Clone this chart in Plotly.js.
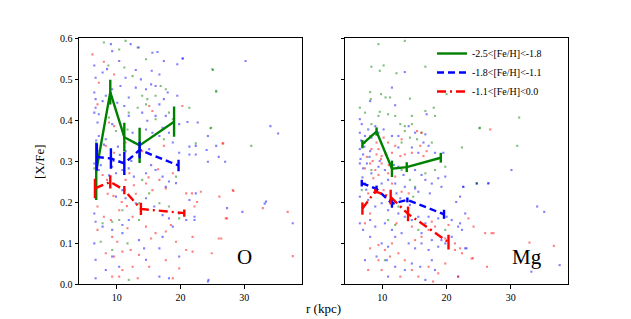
<!DOCTYPE html>
<html>
<head>
<meta charset="utf-8">
<script src="https://cdn.plot.ly/plotly-3.0.1.min.js"></script>
<style>html,body{margin:0;padding:0;background:#fff;}#chart{width:631px;height:319px;}</style>
</head>
<body>
<div id="chart"></div>
<script>
// ---------- legend labels / panel labels ----------
var seriesNames = ["-2.5<[Fe/H]<-1.8", "-1.8<[Fe/H]<-1.1", "-1.1<[Fe/H]<0.0"];
var panelNames = ["O", "Mg"];
var xTicks = [10, 20, 30];
var yTicks = [0.0, 0.1, 0.2, 0.3, 0.4, 0.5, 0.6];

// ---------- binned means: O ----------
var oGreenR = [6.8, 9.0, 11.2, 13.6, 19.0];
var oGreenV = [0.275, 0.468, 0.358, 0.338, 0.396];
var oGreenE = [0.07, 0.03, 0.035, 0.043, 0.037];
var oBlueR = [6.9, 9.1, 11.2, 13.6, 19.7];
var oBlueV = [0.31, 0.306, 0.294, 0.327, 0.289];
var oBlueE = [0.033, 0.025, 0.028, 0.02, 0.014];
var oRedR = [6.6, 9.0, 11.2, 13.8, 20.6];
var oRedV = [0.233, 0.249, 0.229, 0.183, 0.173];
var oRedE = [0.024, 0.016, 0.01, 0.015, 0.009];

// ---------- binned means: Mg ----------
var mgGreenR = [6.9, 9.1, 11.5, 13.8, 19.1];
var mgGreenV = [0.341, 0.372, 0.281, 0.285, 0.308];
var mgGreenE = [0.01, 0.01, 0.02, 0.012, 0.012];
var mgBlueR = [6.8, 9.1, 11.5, 13.9, 19.6];
var mgBlueV = [0.246, 0.232, 0.196, 0.205, 0.17];
var mgBlueE = [0.008, 0.008, 0.01, 0.006, 0.011];
var mgRedR = [6.9, 8.9, 11.3, 14.0, 20.3];
var mgRedV = [0.184, 0.226, 0.212, 0.171, 0.102];
var mgRedE = [0.015, 0.006, 0.018, 0.018, 0.018];

// ---------- individual stars: O ----------
var oDotGreenR = [8.0,11.4,13.5,14.6,10.4,8.7,12.5,11.2,14.8,14.0,16.9,17.7,16.1,13.3,11.9,18.2,21.4,25.0,25.6,24.8,22.4,16.1,11.7,9.9,14.6,18.8,8.8,17.4,25.1,25.6,24.7,31.1,
  6.5,7.8,9.3,10.4,10.9,13.5,13.5,16.7,18.2,19.3,19.8,7.5,9.3,11.7,11.9,15.1,14.0];
var oDotGreenV = [0.589,0.593,0.577,0.548,0.572,0.533,0.507,0.528,0.451,0.459,0.483,0.475,0.459,0.430,0.418,0.418,0.430,0.524,0.471,0.381,0.343,0.402,0.377,0.373,0.438,0.402,0.406,0.353,0.522,0.469,0.38,0.337,
  0.282,0.148,0.152,0.156,0.180,0.197,0.156,0.197,0.189,0.262,0.160,0.103,0.083,0.099,0.010,0.221,0.254];
var oDotBlueR = [9.1,9.3,12.2,13.3,15.6,16.4,20.3,17.4,10.4,6.5,7.8,8.5,6.7,13.0,15.5,16.7,19.5,11.4,13.0,10.6,14.6,16.1,18.0,19.5,6.7,6.5,7.2,7.0,9.9,11.2,14.0,14.8,11.9,16.1,17.7,18.2,19.8,21.1,22.7,22.4,25.6,24.3,12.5,14.6,16.7,6.5,6.7,7.8,8.3,9.3,13.8,15.4,17.4,16.7,11.9,10.1,8.3,7.2,9.3,18.8,19.8,11.4,15.1,15.6,12.7,17.2,21.4,22.4,
  30.2,34.1,35.3,33.4,33.2,29.7,37.6,20.4,21.4,24.1,26.0,27.0,22.2,27.3,24.4,
  6.5,7.2,9.3,9.9,10.9,11.9,12.7,14.6,15.4,16.1,17.2,18.2,19.3,17.7,10.9,9.9,11.4,13.0,14.6,15.9,17.2,18.2,19.8,20.9,22.2,24.3,22.4,21.4,6.5,6.7,7.8,9.3,10.9,11.9,10.9,13.5,16.7,18.8,17.2,6.5,6.7,9.3,10.4,8.3,6.7,14.3,16.7,18.2,24.3,19.8,14.6,
  7.0,8.0,9.5,10.5,12.0,7.5,8.8,10.2,12.3,6.8];
var oDotBlueV = [0.585,0.568,0.585,0.577,0.564,0.566,0.550,0.544,0.544,0.533,0.516,0.524,0.503,0.522,0.520,0.511,0.536,0.503,0.479,0.483,0.475,0.483,0.467,0.459,0.430,0.418,0.414,0.394,0.422,0.434,0.418,0.398,0.410,0.410,0.410,0.369,0.390,0.395,0.394,0.337,0.337,0.361,0.369,0.377,0.361,0.467,0.451,0.446,0.459,0.475,0.499,0.487,0.451,0.438,0.455,0.442,0.353,0.361,0.390,0.345,0.320,0.324,0.329,0.369,0.345,0.381,0.316,0.316,
  0.544,0.385,0.367,0.201,0.196,0.176,0.148,0.55,0.335,0.327,0.31,0.298,0.164,0.185,0.01,
  0.294,0.278,0.286,0.270,0.278,0.282,0.262,0.270,0.290,0.278,0.262,0.250,0.246,0.237,0.229,0.213,0.209,0.197,0.209,0.189,0.168,0.160,0.172,0.156,0.156,0.298,0.221,0.205,0.172,0.152,0.140,0.132,0.144,0.156,0.124,0.107,0.087,0.140,0.115,0.099,0.059,0.067,0.042,0.034,0.014,0.087,0.018,0.014,0.006,0.067,0.059,
  0.325,0.34,0.3,0.315,0.305,0.29,0.265,0.335,0.3,0.35];
var oDotRedR = [6.2,8.0,9.6,7.0,7.2,8.8,9.6,15.1,15.6,20.3,26.6,11.4,17.4,8.3,9.6,14.0,
  28.3,32.9,36.8,37.6,26.7,21.8,26.0,24.9,27.3,22.6,
  7.8,8.5,11.4,12.7,14.6,15.6,16.7,17.7,18.8,20.9,22.2,23.2,26.1,28.2,27.1,26.4,7.0,8.0,9.1,10.4,9.3,10.1,11.7,12.5,14.6,15.4,16.1,17.7,18.5,19.3,20.9,21.9,21.9,7.0,8.3,9.6,10.9,12.2,13.5,17.7,10.9,9.3,10.4,13.3,12.5,19.8,18.8,15.1,
  9.5,10.8,12.0,13.0,15.0,16.5,8.6,11.6];
var oDotRedV = [0.560,0.542,0.511,0.438,0.491,0.394,0.385,0.434,0.422,0.434,0.343,0.345,0.337,0.337,0.320,0.324,
  0.227,0.185,0.176,0.068,0.343,0.221,0.111,0.075,0.16,0.2,
  0.266,0.254,0.254,0.241,0.245,0.229,0.254,0.233,0.270,0.221,0.189,0.225,0.213,0.229,0.160,0.111,0.189,0.164,0.156,0.180,0.115,0.103,0.136,0.164,0.140,0.111,0.124,0.128,0.144,0.103,0.083,0.115,0.079,0.132,0.075,0.067,0.079,0.083,0.071,0.058,0.034,0.018,0.018,0.014,0.042,0.038,0.014,0.042,
  0.215,0.2,0.27,0.22,0.26,0.28,0.22,0.19];

// ---------- individual stars: Mg ----------
var mgDotGreenR = [9.4,13.5,8.3,9.6,10.2,12.2,16.7,8.1,9.8,10.5,11.2,8.2,14.3,6.5,9.6,9.4,10.9,12.0,14.6,7.3,12.8,13.5,14.6,16.7,18.0,18.2,20.0,25.2,22.4,13.5,14.3,15.4,16.1,13.0,17.7,8.3,31.3,31.0,24.7,25.1,
  8.3,11.5,13.0,14.3,15.1,16.7,18.2,19.8,24.7,10.4,12.5,14.8,10.9,19.8,15.6,10.4,12.0,6.8];
var mgDotGreenV = [0.585,0.593,0.530,0.520,0.533,0.514,0.530,0.468,0.463,0.455,0.455,0.451,0.452,0.430,0.420,0.410,0.414,0.410,0.410,0.418,0.390,0.385,0.390,0.422,0.430,0.410,0.463,0.381,0.333,0.373,0.357,0.353,0.369,0.345,0.345,0.390,0.406,0.337,0.246,0.38,
  0.278,0.286,0.278,0.254,0.237,0.270,0.278,0.286,0.245,0.213,0.189,0.213,0.156,0.132,0.132,0.058,0.144,0.229];
var mgDotBlueR = [13.5,11.5,12.0,8.1,6.5,6.8,8.9,9.4,6.5,7.3,7.8,10.2,11.5,12.5,14.1,15.1,16.7,17.2,6.5,7.0,8.1,12.5,14.6,16.4,15.6,18.2,19.5,16.9,8.3,
  30.1,34.1,35.2,37.6,33.2,26.5,22.6,21.5,22.9,22.4,23.1,21.8,
  6.5,7.0,7.6,8.3,9.4,10.4,12.5,13.3,15.1,16.1,16.7,17.7,18.7,19.8,19.2,17.4,15.6,15.1,13.5,12.0,10.9,9.9,7.3,6.5,7.8,8.9,9.9,10.9,12.5,13.5,14.6,15.6,16.7,17.2,18.7,20.0,20.8,22.6,22.1,24.7,26.5,22.1,22.9,6.5,7.0,8.1,8.9,10.4,11.5,12.0,13.0,14.1,15.1,16.1,17.2,17.7,18.7,19.8,10.9,9.9,9.1,10.7,12.0,10.9,13.5,16.7,17.7,19.2,20.8,21.8,8.1,7.3,15.9,14.6,18.2,12.2,12.8,11.2,14.3,16.1,
  6.6,7.2,8.0,6.9,7.5,9.6,10.6,11.8,6.7];
var mgDotBlueV = [0.517,0.479,0.436,0.446,0.402,0.390,0.385,0.369,0.369,0.361,0.377,0.377,0.361,0.361,0.385,0.369,0.365,0.337,0.329,0.316,0.324,0.333,0.333,0.345,0.320,0.320,0.320,0.414,0.357,
  0.278,0.189,0.176,0.046,0.030,0.246,0.237,0.2,0.172,0.132,0.087,0.018,
  0.294,0.282,0.294,0.270,0.286,0.278,0.286,0.266,0.278,0.266,0.254,0.245,0.258,0.262,0.237,0.221,0.225,0.233,0.237,0.245,0.254,0.245,0.245,0.213,0.205,0.189,0.197,0.180,0.172,0.164,0.156,0.164,0.148,0.164,0.160,0.164,0.156,0.237,0.213,0.245,0.245,0.148,0.087,0.148,0.132,0.156,0.140,0.148,0.132,0.115,0.124,0.099,0.087,0.099,0.083,0.107,0.091,0.099,0.091,0.099,0.067,0.058,0.042,0.018,0.034,0.010,0.058,0.107,0.115,0.140,0.115,0.058,0.042,0.050,0.034,0.221,0.209,0.205,0.193,0.124,
  0.305,0.335,0.31,0.26,0.23,0.3,0.315,0.29,0.35];
var mgDotRedR = [8.1,9.1,10.2,10.9,9.4,8.3,12.0,13.0,14.6,15.9,16.1,16.9,13.5,11.5,9.9,7.3,15.4,9.1,12.8,16.4,8.5,9.8,11.0,7.6,10.5,26.8,
  32.9,36.7,27.3,24.1,22.4,
  8.1,8.9,9.4,8.6,7.3,9.9,10.9,11.5,12.0,13.0,14.1,10.2,7.8,7.0,8.1,7.3,14.6,15.1,16.1,17.2,18.2,19.8,21.3,22.1,23.4,24.2,26.0,27.0,8.1,9.4,10.4,11.5,12.5,11.2,9.4,13.5,14.6,15.6,17.2,18.7,19.8,21.3,21.8,23.9,26.3,17.9,12.8,9.9,7.8,17.7,12.2,20.3];
var mgDotRedV = [0.361,0.345,0.357,0.345,0.329,0.329,0.337,0.353,0.320,0.337,0.369,0.324,0.316,0.320,0.312,0.345,0.373,0.316,0.312,0.312,0.30,0.305,0.29,0.31,0.318,0.377,
  0.101,0.093,0.124,0.063,0.075,
  0.294,0.278,0.266,0.258,0.282,0.294,0.270,0.245,0.262,0.225,0.221,0.229,0.221,0.189,0.172,0.148,0.140,0.107,0.115,0.132,0.140,0.111,0.099,0.087,0.160,0.140,0.124,0.124,0.087,0.095,0.083,0.099,0.075,0.067,0.058,0.058,0.034,0.018,0.042,0.026,0.050,0.083,0.018,0.062,0.042,0.006,0.018,0.034,0.034,0.152,0.148,0.144];

var GREEN = "#008000", BLUE = "#0000ff", RED = "#ff0000";
var FONT = "'Liberation Serif', 'Times New Roman', serif";

function dots(x, y, color, xa, ya) {
  return {x: x, y: y, xaxis: xa, yaxis: ya, type: "scatter", mode: "markers", showlegend: false, hoverinfo: "skip",
    marker: {color: color, size: 2.1, symbol: "square", opacity: 0.5, line: {width: 0}}};
}
function mean(x, y, e, color, dash, name, xa, ya, legend) {
  return {x: x, y: y, xaxis: xa, yaxis: ya, type: "scatter", mode: "lines", name: name, showlegend: legend,
    line: {color: color, width: 2.4, dash: dash},
    error_y: {type: "data", array: e, visible: true, color: color, thickness: 2.4, width: 0}};
}
var DASH_B = "7px,4px", DASH_R = "9px,4px,2px,4px";

var data = [
  dots(oDotGreenR, oDotGreenV, GREEN, "x", "y"),
  dots(oDotBlueR, oDotBlueV, BLUE, "x", "y"),
  dots(oDotRedR, oDotRedV, RED, "x", "y"),
  dots(mgDotGreenR, mgDotGreenV, GREEN, "x2", "y2"),
  dots(mgDotBlueR, mgDotBlueV, BLUE, "x2", "y2"),
  dots(mgDotRedR, mgDotRedV, RED, "x2", "y2"),
  mean(oGreenR, oGreenV, oGreenE, GREEN, "solid", seriesNames[0], "x", "y", false),
  mean(oBlueR, oBlueV, oBlueE, BLUE, DASH_B, seriesNames[1], "x", "y", false),
  mean(oRedR, oRedV, oRedE, RED, DASH_R, seriesNames[2], "x", "y", false),
  mean(mgGreenR, mgGreenV, mgGreenE, GREEN, "solid", seriesNames[0], "x2", "y2", true),
  mean(mgBlueR, mgBlueV, mgBlueE, BLUE, DASH_B, seriesNames[1], "x2", "y2", true),
  mean(mgRedR, mgRedV, mgRedE, RED, DASH_R, seriesNames[2], "x2", "y2", true)
];

var axBase = {showline: true, mirror: true, linecolor: "#000", linewidth: 1, ticks: "outside", ticklen: 3.5, tickwidth: 1,
  tickcolor: "#000", showgrid: false, zeroline: false, tickfont: {family: FONT, size: 10, color: "#000"}};
function ax(extra) { return Object.assign({}, axBase, extra); }

var yTop = 1 - 38 / 319, yBot = 1 - 284 / 319;
var layout = {
  width: 631, height: 319,
  margin: {l: 0, r: 0, t: 0, b: 0},
  paper_bgcolor: "#fff", plot_bgcolor: "#fff",
  font: {family: FONT, color: "#000"},
  xaxis: ax({domain: [79 / 631, 301.7 / 631], range: [4.1, 39], tickvals: xTicks, anchor: "y"}),
  yaxis: ax({domain: [yBot, yTop], range: [0, 0.6], tickvals: yTicks, tickformat: ".1f", anchor: "x"}),
  xaxis2: ax({domain: [345 / 631, 568 / 631], range: [4.19, 38.9], tickvals: xTicks, anchor: "y2"}),
  yaxis2: ax({domain: [yBot, yTop], range: [0, 0.6], tickvals: yTicks, showticklabels: false, anchor: "x2"}),
  showlegend: true,
  legend: {x: 432 / 631, y: 1 - 39 / 319, xanchor: "left", yanchor: "top", bgcolor: "rgba(255,255,255,0)",
    font: {family: FONT, size: 10, color: "#000"}, tracegroupgap: 0, itemwidth: 30},
  annotations: [
    {text: panelNames[0], xref: "x domain", yref: "y domain", x: 0.745, y: 0.11, showarrow: false,
      font: {family: FONT, size: 21, color: "#000"}, xanchor: "center", yanchor: "middle"},
    {text: panelNames[1], xref: "x2 domain", yref: "y2 domain", x: 0.816, y: 0.11, showarrow: false,
      font: {family: FONT, size: 21, color: "#000"}, xanchor: "center", yanchor: "middle"},
    {text: "r (kpc)", xref: "paper", yref: "paper", x: 323 / 631, y: 1 - 308 / 319, showarrow: false,
      font: {family: FONT, size: 13, color: "#000"}, xanchor: "center", yanchor: "middle"},
    {text: "[X/Fe]", xref: "paper", yref: "paper", x: 39 / 631, y: 1 - 162 / 319, showarrow: false, textangle: -90,
      font: {family: FONT, size: 13, color: "#000"}, xanchor: "center", yanchor: "middle"}
  ]
};

Plotly.newPlot("chart", data, layout, {staticPlot: true, displayModeBar: false});
</script>
</body>
</html>
